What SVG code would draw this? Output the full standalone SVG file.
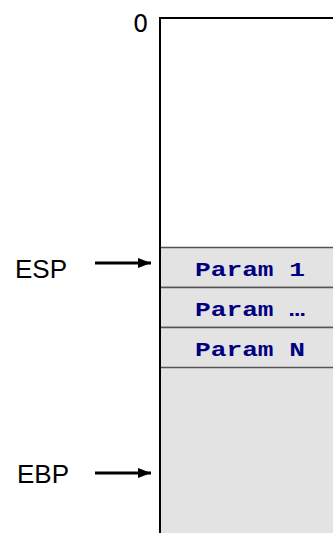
<svg xmlns="http://www.w3.org/2000/svg" width="333" height="533" viewBox="0 0 333 533">
<defs>
<style>
.lbl{font-family:"Liberation Sans",Arial,sans-serif;font-size:26px;fill:#000}
.zero{font-family:"DejaVu Sans","Liberation Sans",sans-serif;font-size:24px;fill:#000}
.prm{font-family:"Liberation Mono","Courier New",monospace;font-weight:bold;font-size:20px;fill:#000080}
.row{fill:#e3e3e3;stroke:#555;stroke-width:1.5}
.arr{stroke:#000;stroke-width:3;fill:none}
</style>
<marker id="ah" markerWidth="13" markerHeight="10" refX="13" refY="5" orient="auto" markerUnits="userSpaceOnUse">
<path d="M0,0 L13,5 L0,10 Z" fill="#000"/>
</marker>
</defs>
<rect x="160" y="247" width="180" height="300" fill="#e3e3e3"/>
<g id="stack">
<path d="M160,533 V18 H333" fill="none" stroke="#000" stroke-width="2"/>
<text class="zero" x="133" y="32">0</text>
</g>
<g id="param1">
<rect class="row" x="160" y="247.5" width="180" height="40"/>
<text class="prm" x="195" y="276" textLength="110" lengthAdjust="spacingAndGlyphs">Param 1</text>
</g>
<g id="paramdots">
<rect class="row" x="160" y="287.5" width="180" height="40"/>
<text class="prm" x="195" y="316" textLength="110" lengthAdjust="spacingAndGlyphs">Param …</text>
</g>
<g id="paramN">
<rect class="row" x="160" y="327.5" width="180" height="40"/>
<text class="prm" x="195" y="356" textLength="110" lengthAdjust="spacingAndGlyphs">Param N</text>
</g>
<line x1="160" y1="247" x2="160" y2="533" stroke="#000" stroke-width="2"/>
<g id="esp">
<text class="lbl" x="15" y="278">ESP</text>
</g>
<g id="ebp">
<text class="lbl" x="17" y="483">EBP</text>
</g>
<g id="connectors">
<line class="arr" x1="95" y1="263" x2="151" y2="263" marker-end="url(#ah)"/>
<line class="arr" x1="95" y1="473" x2="151" y2="473" marker-end="url(#ah)"/>
</g>
</svg>
